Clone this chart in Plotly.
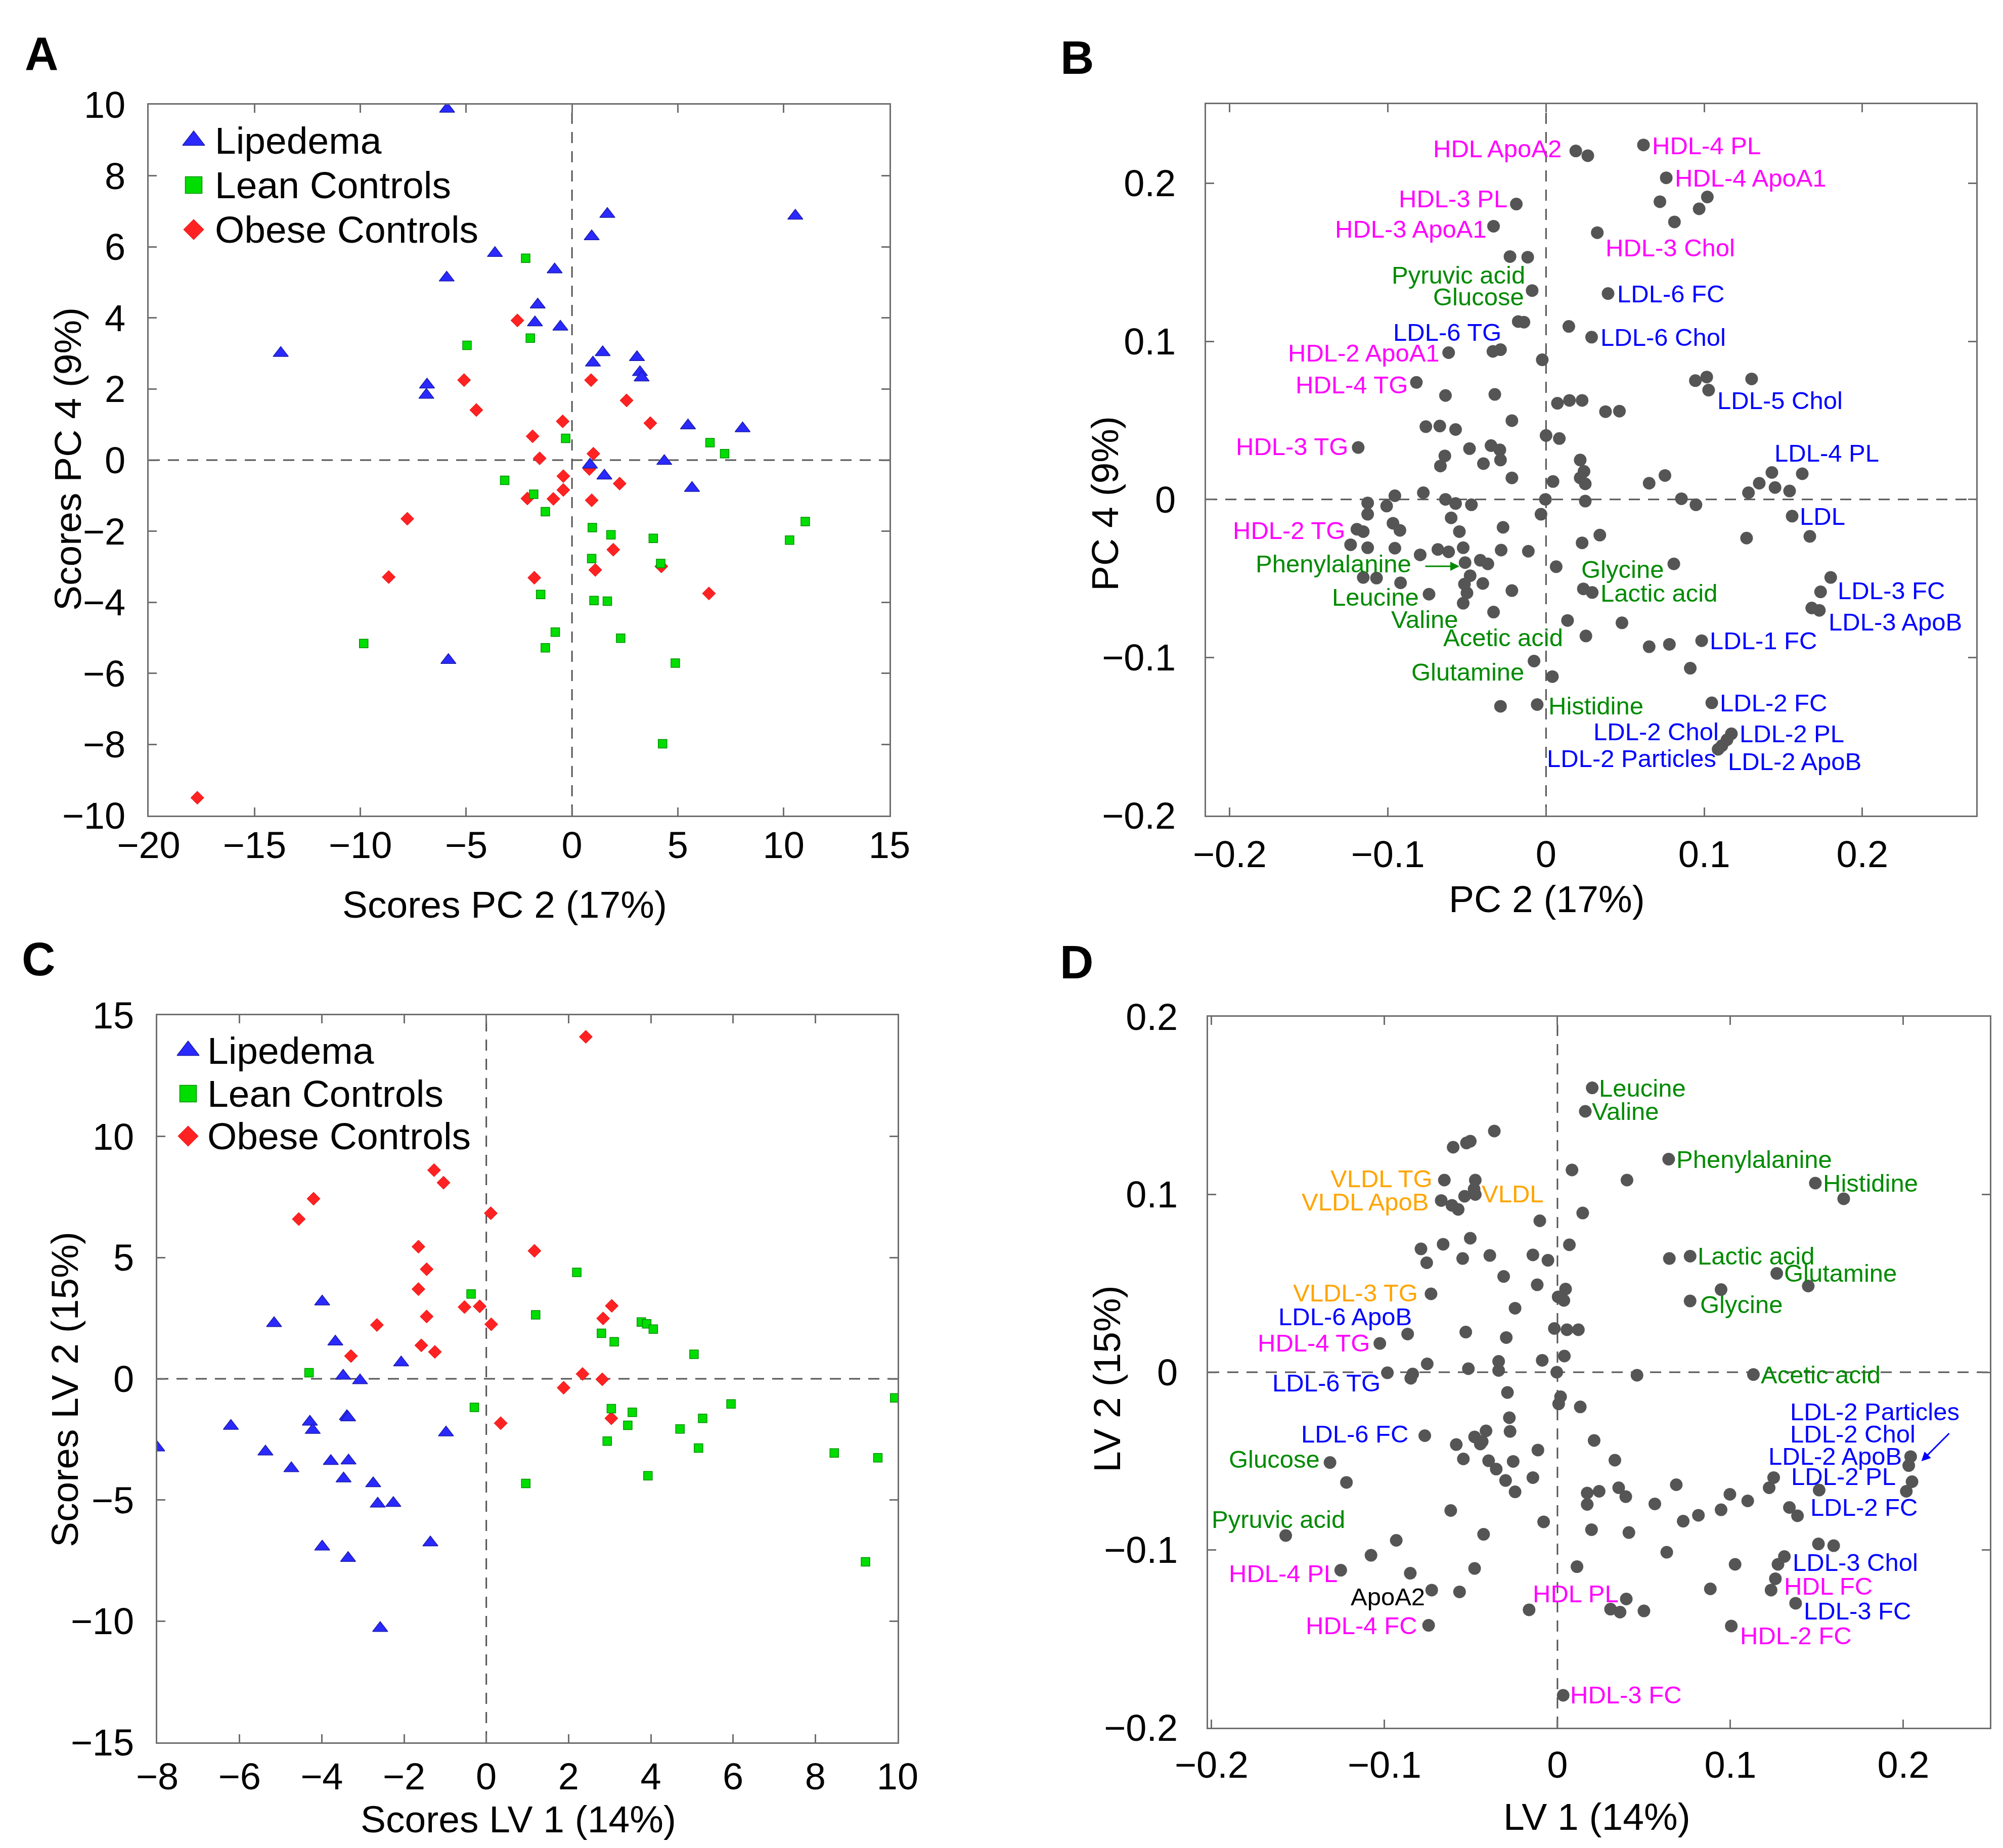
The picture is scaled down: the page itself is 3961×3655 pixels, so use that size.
import plotly.graph_objects as go

W, H = 3961, 3655
FONT = "Liberation Sans, Arial, sans-serif"

# ---------------- panel A : PCA scores (PC 2 vs PC 4) ----------------
A_lip_x = [-5.9, 10.55, 1.67, 0.93, -3.64, -0.82, -5.92, -1.62, -1.75, -0.55, -13.76, 1.45, 3.07,
           0.99, 3.21, 3.29, -6.85, -6.88, 5.48, 8.06, 0.85, 4.36, 1.53, 5.67, -5.84]
A_lip_y = [9.88, 6.87, 6.92, 6.29, 5.82, 5.36, 5.13, 4.37, 3.87, 3.75, 3.01, 3.03, 2.89,
           2.74, 2.47, 2.32, 2.12, 1.83, 0.97, 0.89, -0.13, -0.03, -0.44, -0.79, -5.63]
A_lean_x = [-2.19, -4.96, -1.97, -0.30, 6.52, 7.21, -3.18, -1.81, -1.26, 0.96, 1.84, 3.84, 11.02,
            10.28, 0.93, 4.19, -1.48, 1.04, 1.67, -0.79, -9.84, -1.26, 2.30, 4.88, 4.28]
A_lean_y = [5.68, 3.23, 3.43, 0.61, 0.49, 0.18, -0.57, -0.96, -1.45, -1.90, -2.10, -2.20, -1.73,
            -2.25, -2.77, -2.91, -3.78, -3.95, -3.97, -4.84, -5.16, -5.28, -5.01, -5.71, -7.98]
A_obese_x = [-2.58, -5.10, 0.90, -4.52, 2.58, -0.44, 3.70, -1.86, 1.01, -1.53, -0.41, -0.41, 0.82,
             2.25, -2.11, -0.88, 0.93, -7.78, 1.95, 4.22, 1.10, -8.66, -1.78, 6.47, -17.70]
A_obese_y = [3.93, 2.25, 2.25, 1.41, 1.68, 1.09, 1.04, 0.67, 0.18, 0.05, -0.45, -0.84, -0.25,
             -0.66, -1.08, -1.09, -1.13, -1.65, -2.52, -2.99, -3.09, -3.29, -3.31, -3.75, -9.50]

# ---------------- panel C : PLS-DA scores (LV 1 vs LV 2) ----------------
C_lip_x = [-8.0, -6.21, -5.37, -5.16, -4.74, -3.99, -4.29, -4.22, -3.78, -3.67, -3.48, -3.07, -3.39,
           -3.36, -3.35, -3.47, -2.75, -2.64, -2.26, -2.07, -0.98, -3.99, -3.36, -1.36, -2.58]
C_lip_y = [-2.84, -1.95, -3.01, 2.29, -3.70, 3.18, -1.78, -2.12, -3.40, 1.53, 0.12, -0.07, -1.55,
           -1.60, -3.38, -4.12, -4.32, -5.16, -5.13, 0.67, -2.22, -6.93, -7.40, -6.76, -10.29]
C_lean_x = [-4.31, -0.37, -0.29, 0.96, 1.20, 2.20, 2.80, 3.11, 3.77, 3.90, 4.06, 5.05, 3.04,
            3.55, 3.44, 2.94, 3.93, 4.71, 5.26, 5.16, 5.95, 8.46, 9.52, 9.93, 9.22]
C_lean_y = [0.25, 3.50, -1.18, -4.32, 2.64, 4.39, 1.88, 1.53, 2.34, 2.27, 2.05, 1.01, -1.23,
            -1.38, -1.92, -2.57, -4.00, -2.07, -1.63, -2.86, -1.04, -3.06, -3.26, -0.79, -7.55]
C_obese_x = [2.42, -1.27, -1.04, -4.20, -4.56, 0.11, 1.17, -1.65, -1.45, -1.65, -0.53, -0.16, 3.05,
             -1.45, -2.66, 0.12, 2.84, -1.58, -1.25, -3.29, 2.34, 2.82, 1.88, 3.04, 0.35]
C_obese_y = [14.11, 8.61, 8.09, 7.43, 6.59, 6.83, 5.28, 5.45, 4.52, 3.70, 2.96, 2.99, 3.01,
             2.57, 2.22, 2.25, 2.49, 1.38, 1.11, 0.94, 0.20, -0.02, -0.37, -1.63, -1.83]

# ---------------- panel B : PCA loadings ----------------
B_x = [0.0188, 0.0264, 0.0616, 0.076, 0.102, 0.072, 0.0968, 0.0812, 0.0324, -0.0188,
       -0.0332, -0.0228, -0.0116, -0.0088, 0.0392, -0.0176, -0.014, 0.0144, 0.0288, -0.0336,
       -0.0288, -0.0616, -0.0024, -0.082, -0.0636, -0.0324, 0.0944, 0.1016, 0.1028, 0.13,
       0.0072, 0.0148, 0.0228, 0.0376, 0.0464, -0.0216, -0.076, -0.0672, -0.0572, 0.0,
       0.0084, -0.1188, -0.0484, -0.0348, -0.0292, -0.064, -0.0668, -0.0396, -0.0288, 0.0216,
       0.024, 0.0216, 0.0248, -0.0216, 0.0044, 0.0652, 0.0752, 0.1428, 0.162, 0.1348,
       0.1448, 0.154, 0.128, 0.0856, 0.0948, 0.1556, 0.1668, 0.1268, -0.0776, -0.0956,
       -0.1128, -0.1008, -0.0636, -0.0572, -0.0472, -0.0004, 0.0248, -0.1128, -0.0032, -0.06,
       -0.0968, -0.0924, -0.0272, -0.1196, -0.1156, -0.0548, 0.034, -0.1236, -0.1128, -0.0956,
       0.0228, -0.0684, -0.0616, -0.0524, -0.0284, -0.0112, -0.0796, -0.0512, -0.0416, -0.0368,
       0.0064, 0.0808, -0.1156, -0.1072, -0.092, -0.048, -0.0516, -0.05, -0.04, -0.074,
       -0.0524, -0.0216, 0.0236, 0.0292, -0.0332, 0.0136, 0.048, 0.0252, 0.18, 0.1736,
       0.168, 0.1728, 0.0984, 0.0652, 0.078, 0.0912, -0.0076, 0.004, -0.0288, -0.0056,
       0.1048, 0.1172, 0.1144, 0.1112, 0.1088]
B_y = [0.2204, 0.2174, 0.2242, 0.2034, 0.1913, 0.1883, 0.1838, 0.1755, 0.1687, 0.1868,
       0.1728, 0.1536, 0.1532, 0.1321, 0.1302, 0.1125, 0.1121, 0.1094, 0.1026, 0.0936,
       0.0947, 0.0928, 0.0883, 0.074, 0.0657, 0.0664, 0.0751, 0.0774, 0.0691, 0.0762,
       0.0608, 0.0626, 0.0626, 0.0555, 0.0558, 0.0498, 0.046, 0.0464, 0.0442, 0.0404,
       0.0385, 0.0328, 0.0321, 0.034, 0.0313, 0.0275, 0.0211, 0.0226, 0.0249, 0.0249,
       0.0177, 0.0136, 0.0098, 0.0136, 0.0113, 0.0102, 0.0151, 0.017, 0.0162, 0.0102,
       0.0075, 0.0053, 0.0042, 0.0004, -0.0034, -0.0106, -0.0234, -0.0245, 0.0042, 0.0023,
       -0.0023, -0.0042, 0.0, -0.0026, -0.0034, 0.0, -0.0011, -0.0094, -0.0094, -0.0117,
       -0.0151, -0.0196, -0.0177, -0.0189, -0.0204, -0.0204, -0.0226, -0.0287, -0.0306, -0.0309,
       -0.0275, -0.0317, -0.0332, -0.0306, -0.0321, -0.0328, -0.0351, -0.04, -0.0385, -0.0408,
       -0.0426, -0.0408, -0.0494, -0.0498, -0.0528, -0.0483, -0.0536, -0.0592, -0.0532, -0.06,
       -0.0657, -0.0577, -0.0566, -0.0589, -0.0713, -0.0766, -0.0781, -0.0864, -0.0494, -0.0585,
       -0.0687, -0.0702, -0.0894, -0.0932, -0.0917, -0.1068, -0.1023, -0.1121, -0.1309, -0.1298,
       -0.1287, -0.1483, -0.1521, -0.1558, -0.1581]

B_lab_text = ["HDL ApoA2", "HDL-4 PL", "HDL-4 ApoA1", "HDL-3 PL", "HDL-3 ApoA1", "HDL-3 Chol",
              "Pyruvic acid", "Glucose", "LDL-6 FC", "LDL-6 TG", "LDL-6 Chol", "HDL-2 ApoA1",
              "HDL-4 TG", "LDL-5 Chol", "HDL-3 TG", "LDL-4 PL", "LDL", "HDL-2 TG",
              "Phenylalanine", "Glycine", "Leucine", "Lactic acid", "LDL-3 FC", "Valine",
              "LDL-3 ApoB", "Acetic acid", "LDL-1 FC", "Glutamine", "Histidine", "LDL-2 FC",
              "LDL-2 Chol", "LDL-2 PL", "LDL-2 Particles", "LDL-2 ApoB"]
B_lab_x = [0.010, 0.0668, 0.0812, -0.024, -0.0372, 0.0372, -0.0128, -0.0136, 0.0448, -0.028,
           0.034, -0.0668, -0.0872, 0.108, -0.1248, 0.144, 0.16, -0.1268, -0.0848, 0.022,
           -0.08, 0.034, 0.184, -0.0552, 0.1784, 0.0112, 0.1032, -0.0136, 0.0012, 0.1096,
           0.1096, 0.122, 0.108, 0.1148]
B_lab_y = [0.222, 0.2238, 0.2034, 0.1902, 0.171, 0.1592, 0.1418, 0.1282, 0.1302, 0.1057,
           0.1026, 0.0925, 0.0725, 0.0626, 0.0336, 0.0294, -0.0106, -0.0196, -0.0408, -0.0442,
           -0.0619, -0.0592, -0.0577, -0.0758, -0.0774, -0.0875, -0.0894, -0.1091, -0.1306, -0.1287,
           -0.1468, -0.1483, -0.1638, -0.1657]
B_lab_side = ["right", "left", "left", "right", "right", "left", "right", "right", "left", "right",
              "left", "right", "right", "left", "right", "left", "left", "right", "right", "left",
              "right", "left", "left", "right", "left", "right", "left", "right", "left", "left",
              "right", "left", "right", "left"]
B_lab_class = ["hdl", "hdl", "hdl", "hdl", "hdl", "hdl", "met", "met", "ldl", "ldl",
               "ldl", "hdl", "hdl", "ldl", "hdl", "ldl", "ldl", "hdl", "met", "met",
               "met", "met", "ldl", "met", "ldl", "met", "ldl", "met", "met", "ldl",
               "ldl", "ldl", "ldl", "ldl"]

# ---------------- panel D : PLS-DA loadings ----------------
D_x = [0.0201, 0.0161, -0.0365, -0.0603, -0.0526, -0.0504, 0.0643, 0.0084, 0.0402, 0.1491,
       0.1655, -0.0654, -0.0475, -0.0482, -0.0537, -0.0475, -0.0672, -0.061, -0.0574, 0.0146,
       -0.0102, 0.0069, -0.0504, -0.0661, -0.0789, -0.0756, -0.0548, -0.0391, -0.0142, -0.0055,
       -0.0311, -0.0117, 0.0047, 0.0004, 0.0037, -0.0731, -0.0245, 0.0647, 0.0767, 0.1268,
       0.145, 0.0946, 0.0767, -0.0866, -0.1027, -0.053, -0.0296, -0.0018, 0.0055, 0.0121,
       -0.034, -0.0088, 0.004, -0.0753, -0.0983, -0.0837, -0.0848, -0.0515, -0.034, -0.0004,
       0.046, 0.1133, -0.0289, 0.0018, 0.0007, 0.0132, -0.0278, -0.0274, -0.0413, -0.0767,
       -0.0479, -0.0446, -0.0585, -0.0435, 0.0212, -0.0113, -0.0544, -0.0398, -0.0256, -0.0354,
       0.0332, -0.1315, -0.122, -0.03, -0.0142, -0.0245, 0.0172, 0.0241, 0.0354, 0.0395,
       0.0172, 0.0687, 0.0997, 0.11, 0.0563, 0.0946, 0.0815, 0.0727, 0.1224, 0.125,
       0.1513, 0.1341, 0.1388, 0.2017, 0.205, 0.2031, 0.2042, -0.0617, -0.008, 0.0197,
       0.0413, -0.0427, -0.1571, -0.0932, -0.1078, 0.0632, 0.1509, 0.1597, 0.1312, 0.1275,
       0.1027, 0.0113, -0.0479, -0.1253, -0.0851, 0.126, 0.0884, 0.1235, -0.0727, -0.0566,
       0.0398, 0.1377, -0.0164, 0.0307, 0.0362, 0.05, -0.0745, 0.1005, 0.0033]
D_y = [0.16, 0.1468, 0.1357, 0.1266, 0.129, 0.13, 0.1199, 0.1138, 0.1081, 0.1064,
       0.0976, 0.1081, 0.1081, 0.103, 0.099, 0.1, 0.0966, 0.0939, 0.0916, 0.0896,
       0.0852, 0.0717, 0.0754, 0.072, 0.0694, 0.0616, 0.064, 0.0657, 0.066, 0.063,
       0.0539, 0.0492, 0.0468, 0.0424, 0.0404, 0.0441, 0.036, 0.064, 0.0653, 0.0556,
       0.0485, 0.0465, 0.0401, 0.0215, 0.0162, 0.0226, 0.0195, 0.0246, 0.0239, 0.0239,
       0.0061, 0.0067, 0.0091, 0.0047, -0.0003, -0.001, -0.0034, 0.002, 0.001, 0.0,
       -0.0017, -0.0013, -0.0114, -0.0138, -0.0178, -0.0195, -0.0256, -0.0333, -0.033, -0.0357,
       -0.0364, -0.0404, -0.0407, -0.039, -0.0384, -0.0438, -0.0488, -0.0498, -0.0502, -0.0545,
       -0.0495, -0.0508, -0.062, -0.0609, -0.0593, -0.0673, -0.068, -0.067, -0.065, -0.07,
       -0.0744, -0.0633, -0.0687, -0.0724, -0.0741, -0.0774, -0.0805, -0.0838, -0.065, -0.0593,
       -0.0663, -0.0761, -0.0808, -0.067, -0.0616, -0.0525, -0.0475, -0.0778, -0.0842, -0.0886,
       -0.0902, -0.0912, -0.0919, -0.0946, -0.103, -0.1013, -0.0966, -0.0976, -0.1037, -0.1081,
       -0.1081, -0.1094, -0.1104, -0.1114, -0.1131, -0.1162, -0.1219, -0.1226, -0.1226, -0.1236,
       -0.1276, -0.13, -0.1337, -0.1333, -0.135, -0.1343, -0.1424, -0.1428, -0.1818]

D_lab_text = ["Leucine", "Valine", "Phenylalanine", "Histidine", "VLDL TG", "VLDL", "VLDL ApoB",
              "Lactic acid", "Glutamine", "VLDL-3 TG", "Glycine", "LDL-6 ApoB", "HDL-4 TG",
              "LDL-6 TG", "Acetic acid", "LDL-2 Particles", "LDL-2 Chol", "LDL-2 ApoB", "LDL-2 PL",
              "LDL-2 FC", "LDL-6 FC", "Glucose", "Pyruvic acid", "LDL-3 Chol", "HDL-4 PL",
              "HDL FC", "ApoA2", "HDL PL", "LDL-3 FC", "HDL-4 FC", "HDL-2 FC", "HDL-3 FC"]
D_lab_x = [0.0237, 0.0197, 0.0683, 0.1531, -0.072, -0.0442, -0.0738, 0.0807, 0.1308, -0.0804,
           0.0822, -0.084, -0.1081, -0.1019, 0.1173, 0.1341, 0.1341, 0.1217, 0.1348, 0.1458,
           -0.0859, -0.137, -0.1224, 0.1356, -0.1268, 0.1308, -0.0764, 0.0358, 0.1421, -0.0807,
           0.1052, 0.0069]
D_lab_y = [0.16, 0.1468, 0.1199, 0.1064, 0.1091, 0.1003, 0.096, 0.0653, 0.0559, 0.0448,
           0.038, 0.0313, 0.0165, -0.0061, -0.0013, -0.0222, -0.0347, -0.0471, -0.0586, -0.0761,
           -0.0347, -0.0488, -0.0828, -0.1071, -0.1131, -0.1202, -0.1263, -0.1246, -0.1343, -0.1424,
           -0.1481, -0.1815]
D_lab_side = ["left", "left", "left", "left", "right", "left", "right", "left", "left", "right",
              "left", "right", "right", "right", "left", "left", "left", "left", "left", "left",
              "right", "right", "right", "left", "right", "left", "right", "right", "left", "right",
              "left", "left"]
D_lab_class = ["met", "met", "met", "met", "vldl", "vldl", "vldl", "met", "met", "vldl",
               "met", "ldl", "hdl", "ldl", "met", "ldl", "ldl", "ldl", "ldl", "ldl",
               "ldl", "met", "met", "ldl", "hdl", "hdl", "apo", "hdl", "ldl", "hdl",
               "hdl", "hdl"]

group_names = ["Lipedema", "Lean Controls", "Obese Controls"]

# ---------------- styles ----------------
FRAME = "#6e6e6e"
ZERO = "#555555"
DOT = "#555555"
LAB_COLOR = {"hdl": "#ff00ff", "ldl": "#0000ff", "met": "#008a00", "vldl": "#ffa500", "apo": "#000000"}
GROUP_STYLE = {
    "Lipedema": dict(symbol="triangle-up", color="#2a2aff", line=dict(color="#1a1aa8", width=1.5), size=26),
    "Lean Controls": dict(symbol="square", color="#00dd00", line=dict(color="#009000", width=1.5), size=17),
    "Obese Controls": dict(symbol="diamond", color="#ff2222", line=dict(color="#e01010", width=1), size=20),
}
LEGEND_SIZE = {"Lipedema": 38, "Lean Controls": 33, "Obese Controls": 31}

fig = go.Figure()

# score plots (obese first so the other groups sit on top)
score_sets = [
    ("x", "y", {"Lipedema": (A_lip_x, A_lip_y), "Lean Controls": (A_lean_x, A_lean_y),
                "Obese Controls": (A_obese_x, A_obese_y)}),
    ("x3", "y3", {"Lipedema": (C_lip_x, C_lip_y), "Lean Controls": (C_lean_x, C_lean_y),
                  "Obese Controls": (C_obese_x, C_obese_y)}),
]
for xa, ya, sets in score_sets:
    for g in ["Obese Controls", "Lean Controls", "Lipedema"]:
        gx, gy = sets[g]
        fig.add_trace(go.Scatter(x=gx, y=gy, mode="markers", marker=GROUP_STYLE[g],
                                 xaxis=xa, yaxis=ya, showlegend=False))

# loading plots
for xa, ya, lx, ly in [("x2", "y2", B_x, B_y), ("x4", "y4", D_x, D_y)]:
    fig.add_trace(go.Scatter(x=lx, y=ly, mode="markers",
                             marker=dict(color=DOT, size=25, line=dict(width=0)),
                             xaxis=xa, yaxis=ya, showlegend=False))

annotations = []
for xa, ya, texts, xs, ys, sides, cls in [
        ("x2", "y2", B_lab_text, B_lab_x, B_lab_y, B_lab_side, B_lab_class),
        ("x4", "y4", D_lab_text, D_lab_x, D_lab_y, D_lab_side, D_lab_class)]:
    for t, lx, ly, s, c in zip(texts, xs, ys, sides, cls):
        annotations.append(dict(text=t, x=lx, y=ly, xref=xa, yref=ya, xanchor=s, yanchor="middle",
                                showarrow=False, borderpad=0,
                                font=dict(family=FONT, size=49, color=LAB_COLOR[c])))

# pointer arrows
annotations.append(dict(x=-0.0548, y=-0.0423, ax=-0.0768, ay=-0.0423, xref="x2", yref="y2",
                        axref="x2", ayref="y2", text="", showarrow=True, arrowhead=2,
                        arrowsize=1.2, arrowwidth=3, arrowcolor=LAB_COLOR["met"]))
annotations.append(dict(x=0.2104, y=-0.0501, ax=0.2269, ay=-0.034, xref="x4", yref="y4",
                        axref="x4", ayref="y4", text="", showarrow=True, arrowhead=2,
                        arrowsize=1.2, arrowwidth=3, arrowcolor=LAB_COLOR["ldl"]))

# legends (drawn on a full-page pixel axis)
for mx, tx, rows in [(375, 415, [270, 358, 446]), (364, 400, [2070, 2155, 2239])]:
    for g, ry in zip(group_names, rows):
        st = dict(GROUP_STYLE[g])
        st["size"] = LEGEND_SIZE[g]
        fig.add_trace(go.Scatter(x=[mx], y=[ry], mode="markers", marker=st,
                                 xaxis="x5", yaxis="y5", showlegend=False, hoverinfo="skip"))
        annotations.append(dict(text=g, x=tx, y=ry, xref="x5", yref="y5", xanchor="left",
                                yanchor="middle", showarrow=False,
                                font=dict(family=FONT, size=75, color="black")))

# axis titles and panel letters (pixel positions on the page)
titles = [
    ("Scores PC 2 (17%)", 990, 1781, 0), ("Scores PC 4 (9%)", 126, 900, -90),
    ("PC 2 (17%)", 3051, 1770, 0), ("PC 4 (9%)", 2177, 988, -90),
    ("Scores LV 1 (14%)", 1017, 3590, 0), ("Scores LV 2 (15%)", 120, 2740, -90),
    ("LV 1 (14%)", 3150, 3585, 0), ("LV 2 (15%)", 2181, 2719, -90),
]
for t, px, py, ang in titles:
    annotations.append(dict(text=t, x=px, y=py, xref="x5", yref="y5", textangle=ang,
                            xanchor="center", yanchor="middle", showarrow=False,
                            font=dict(family=FONT, size=75, color="black")))
for t, px, py in [("A", 74, 98), ("B", 2122, 106), ("C", 68, 1889), ("D", 2121, 1895)]:
    annotations.append(dict(text="<b>%s</b>" % t, x=px, y=py, xref="x5", yref="y5",
                            xanchor="center", yanchor="middle", showarrow=False,
                            font=dict(family=FONT, size=92, color="black")))


def box_axis(domain, rng, dtick, anchor, standoff):
    return dict(domain=domain, range=rng, tick0=0, dtick=dtick, anchor=anchor,
                showline=True, mirror="ticks", linecolor=FRAME, linewidth=3,
                ticks="inside", ticklen=16, tickwidth=3, tickcolor=FRAME,
                showgrid=False, zeroline=False, ticklabelstandoff=standoff,
                automargin=False,
                tickfont=dict(family=FONT, size=74, color="black"))


def px_x(a, b):
    return [a / W, b / W]


def px_y(top, bottom):
    return [1 - bottom / H, 1 - top / H]


shapes = []
for xa, ya in [("x", "y"), ("x2", "y2"), ("x3", "y3"), ("x4", "y4")]:
    zl = dict(color=ZERO, width=3, dash="22px,16px")
    shapes.append(dict(type="line", xref=xa, yref=ya + " domain", x0=0, x1=0, y0=0, y1=1,
                       line=zl, layer="below"))
    shapes.append(dict(type="line", xref=xa + " domain", yref=ya, x0=0, x1=1, y0=0, y1=0,
                       line=zl, layer="below"))

fig.update_layout(
    width=W, height=H,
    margin=dict(l=0, r=0, t=0, b=0, autoexpand=False),
    paper_bgcolor="white", plot_bgcolor="rgba(0,0,0,0)",
    showlegend=False,
    xaxis=box_axis(px_x(286, 1751), [-20, 15], 5, "y", -8),
    yaxis=box_axis(px_y(199, 1605), [-10, 10], 2, "x", 28),
    xaxis2=box_axis(px_x(2377, 3900), [-0.215, 0.272], 0.1, "y2", 10),
    yaxis2=box_axis(px_y(198, 1605), [-0.2, 0.25], 0.1, "x2", 42),
    xaxis3=box_axis(px_x(303, 1767), [-8, 10], 2, "y3", 1),
    yaxis3=box_axis(px_y(2000, 3438), [-15, 15], 5, "x3", 28),
    xaxis4=box_axis(px_x(2381, 3927), [-0.202, 0.25], 0.1, "y4", 7),
    yaxis4=box_axis(px_y(2003, 3409), [-0.2, 0.2], 0.1, "x4", 42),
    xaxis5=dict(domain=[0, 1], range=[0, W], visible=False, anchor="y5", fixedrange=True,
                automargin=False),
    yaxis5=dict(domain=[0, 1], range=[H, 0], visible=False, anchor="x5", fixedrange=True,
                automargin=False),
    annotations=annotations,
    shapes=shapes,
)

fig.write_html("out.html")
